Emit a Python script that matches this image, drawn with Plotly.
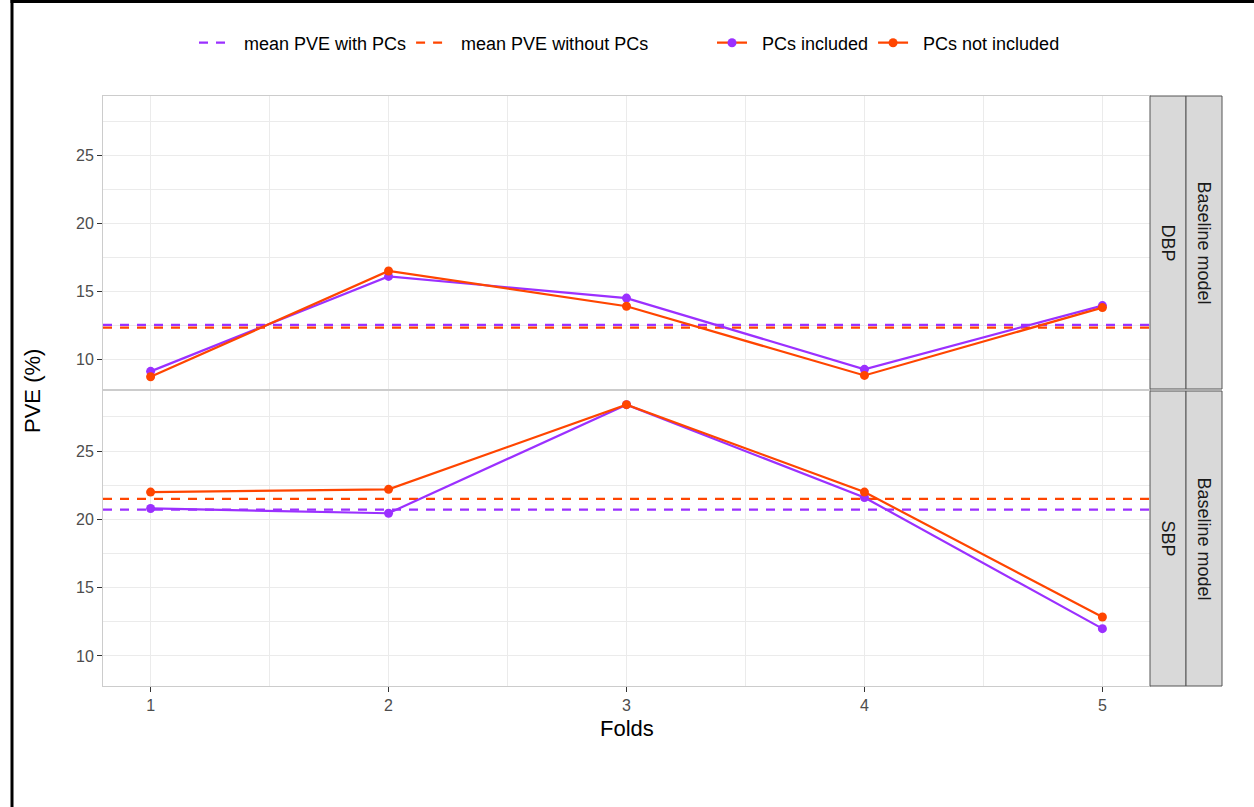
import plotly.graph_objects as go

# ---------------- data ----------------
folds = [1, 2, 3, 4, 5]
fold_ticks = ["1", "2", "3", "4", "5"]

dbp_with_pcs = [9.1, 16.1, 14.5, 9.25, 13.95]
dbp_without_pcs = [8.7, 16.5, 13.9, 8.8, 13.8]
sbp_with_pcs = [20.8, 20.45, 28.4, 21.6, 12.0]
sbp_without_pcs = [22.0, 22.2, 28.4, 22.0, 12.85]

dbp_mean_with = 12.52
dbp_mean_without = 12.33
sbp_mean_with = 20.71
sbp_mean_without = 21.5

y_ticks = [10, 15, 20, 25]
legend_names = ["mean PVE with PCs", "mean PVE without PCs", "PCs included", "PCs not included"]
strip_labels_inner = ["DBP", "SBP"]
strip_label_outer = "Baseline model"

# ---------------- style ----------------
PURPLE = "#9B30FF"
ORANGE = "#FF4500"
FONT = "Liberation Sans, Arial, sans-serif"
W, H = 1254, 807
ML, MR, MT, MB = 103, 32, 96, 121
PW = W - ML - MR
PH = H - MT - MB
PAD = "\u00a0\u00a0"  # small gap between legend key and label

def px_x(p):
    return (p - ML) / PW

def px_y(p):
    return (H - MB - p) / PH

x_range = [0.8, 5.2]
y_range = [7.8, 29.4]

panel_right = px_x(1150)
strip1_right = px_x(1186)
top_dom = [px_y(389), 1.0]
bot_dom = [0.0, px_y(391)]

fig = go.Figure()

panels = [
    ("x2", "y2", dbp_with_pcs, dbp_without_pcs, dbp_mean_with, dbp_mean_without),
    ("x", "y", sbp_with_pcs, sbp_without_pcs, sbp_mean_with, sbp_mean_without),
]

for i, (xa, ya, w, wo, mw, mwo) in enumerate(panels):
    fig.add_trace(go.Scatter(
        x=x_range, y=[mw, mw], xaxis=xa, yaxis=ya, mode="lines",
        line=dict(color=PURPLE, width=2.2, dash="9px,8px"),
        name=PAD + legend_names[0], legendgroup="mw", showlegend=(i == 0),
        legend="legend", hoverinfo="skip"))
    fig.add_trace(go.Scatter(
        x=x_range, y=[mwo, mwo], xaxis=xa, yaxis=ya, mode="lines",
        line=dict(color=ORANGE, width=2.2, dash="9px,8px"),
        name=PAD + legend_names[1], legendgroup="mwo", showlegend=(i == 0),
        legend="legend", hoverinfo="skip"))

for i, (xa, ya, w, wo, mw, mwo) in enumerate(panels):
    fig.add_trace(go.Scatter(
        x=folds, y=w, xaxis=xa, yaxis=ya, mode="lines+markers",
        line=dict(color=PURPLE, width=2.2), marker=dict(color=PURPLE, size=9),
        showlegend=False, name=legend_names[2]))
    fig.add_trace(go.Scatter(
        x=folds, y=wo, xaxis=xa, yaxis=ya, mode="lines+markers",
        line=dict(color=ORANGE, width=2.2), marker=dict(color=ORANGE, size=9),
        showlegend=False, name=legend_names[3]))

# legend keys (as drawn in the reference)
fig.add_trace(go.Scatter(x=[None], y=[None], mode="lines+markers",
                         line=dict(color=ORANGE, width=2.2), marker=dict(color=PURPLE, size=9),
                         name=PAD + legend_names[2], legend="legend2"))
fig.add_trace(go.Scatter(x=[None], y=[None], mode="lines+markers",
                         line=dict(color=ORANGE, width=2.2), marker=dict(color=ORANGE, size=9),
                         name=PAD + legend_names[3], legend="legend2"))

grid = "#EBEBEB"
axis_common = dict(
    showline=True, mirror=True, linecolor="#CCCCCC", linewidth=1,
    showgrid=True, gridcolor=grid, gridwidth=1.2, zeroline=False,
    ticks="outside", ticklen=5, tickwidth=1.1, tickcolor="#333333",
    tickfont=dict(family=FONT, size=16, color="#4D4D4D"),
)

LEG_FONT = dict(family=FONT, size=18, color="black")

fig.update_layout(
    width=W, height=H,
    margin=dict(l=ML, r=MR, t=MT, b=MB),
    paper_bgcolor="white", plot_bgcolor="white",
    font=dict(family=FONT, color="black"),
    xaxis=dict(domain=[0, panel_right], anchor="y", range=x_range,
               tickmode="array", tickvals=folds, ticktext=fold_ticks,
               minor=dict(dtick=0.5, tick0=0.5, showgrid=True, gridcolor=grid, gridwidth=0.8),
               **axis_common),
    xaxis2=dict(domain=[0, panel_right], anchor="y2", range=x_range, matches="x",
                tickmode="array", tickvals=folds, showticklabels=False,
                minor=dict(dtick=0.5, tick0=0.5, showgrid=True, gridcolor=grid, gridwidth=0.8),
                **{**axis_common, "ticks": ""}),
    yaxis=dict(domain=bot_dom, anchor="x", range=y_range,
               tickmode="array", tickvals=y_ticks,
               minor=dict(tickmode="array", tickvals=[7.5, 12.5, 17.5, 22.5, 27.5],
                          showgrid=True, gridcolor=grid, gridwidth=0.8),
               **axis_common),
    yaxis2=dict(domain=top_dom, anchor="x2", range=y_range,
                tickmode="array", tickvals=y_ticks,
                minor=dict(tickmode="array", tickvals=[7.5, 12.5, 17.5, 22.5, 27.5],
                           showgrid=True, gridcolor=grid, gridwidth=0.8),
                **axis_common),
    legend=dict(orientation="h", x=px_x(194), xanchor="left", y=px_y(43), yanchor="middle",
                font=LEG_FONT, bgcolor="rgba(0,0,0,0)",
                itemwidth=30, traceorder="normal"),
    legend2=dict(orientation="h", x=px_x(712), xanchor="left", y=px_y(43), yanchor="middle",
                 font=LEG_FONT, bgcolor="rgba(0,0,0,0)",
                 itemwidth=30, traceorder="normal"),
    showlegend=True,
)

shapes = []
annotations = []
STRIP_FONT = dict(family=FONT, size=18, color="#1A1A1A")
for dom, lab in zip([top_dom, bot_dom], strip_labels_inner):
    shapes.append(dict(type="rect", xref="paper", yref="paper",
                       x0=panel_right, x1=strip1_right, y0=dom[0], y1=dom[1],
                       fillcolor="#D9D9D9", line=dict(color="#555555", width=1), layer="above"))
    shapes.append(dict(type="rect", xref="paper", yref="paper",
                       x0=strip1_right, x1=1.0, y0=dom[0], y1=dom[1],
                       fillcolor="#D9D9D9", line=dict(color="#555555", width=1), layer="above"))
    annotations.append(dict(text=lab, xref="paper", yref="paper",
                            x=(panel_right + strip1_right) / 2, y=(dom[0] + dom[1]) / 2,
                            xanchor="center", yanchor="middle",
                            textangle=90, showarrow=False, font=STRIP_FONT))
    annotations.append(dict(text=strip_label_outer, xref="paper", yref="paper",
                            x=(strip1_right + 1.0) / 2, y=(dom[0] + dom[1]) / 2,
                            xanchor="center", yanchor="middle",
                            textangle=90, showarrow=False, font=STRIP_FONT))

annotations.append(dict(text="PVE (%)", xref="paper", yref="paper",
                        x=px_x(32), y=px_y(391), xanchor="center", yanchor="middle",
                        textangle=-90, showarrow=False,
                        font=dict(family=FONT, size=22, color="black")))
annotations.append(dict(text="Folds", xref="paper", yref="paper",
                        x=px_x(627), y=px_y(728), xanchor="center", yanchor="middle",
                        showarrow=False,
                        font=dict(family=FONT, size=22, color="black")))

# outer frame (left and top edges visible in the reference)
shapes.append(dict(type="line", xref="paper", yref="paper",
                   x0=px_x(12), x1=px_x(12), y0=px_y(0), y1=px_y(H + 5),
                   line=dict(color="black", width=3)))
shapes.append(dict(type="line", xref="paper", yref="paper",
                   x0=px_x(10.5), x1=px_x(W + 5), y0=px_y(1.5), y1=px_y(1.5),
                   line=dict(color="black", width=3)))

fig.update_layout(shapes=shapes, annotations=annotations)

fig.write_html("out.html",
               config={"displayModeBar": False},
               post_script="document.body.style.margin='0px';document.body.style.padding='0px';")
